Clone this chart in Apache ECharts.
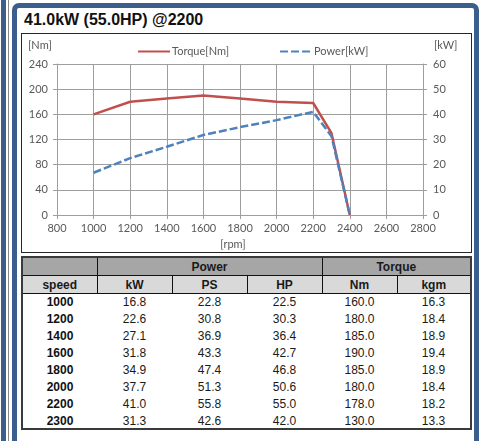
<!DOCTYPE html>
<html>
<head>
<meta charset="utf-8">
<script src="https://cdn.jsdelivr.net/npm/echarts@6/dist/echarts.min.js"></script>
<style>
  html, body { margin:0; padding:0; width:479px; height:441px; overflow:hidden; background:#fff; }
  .abs { position:absolute; box-sizing:border-box; }
  #strip { left:1px; top:0; width:5px; height:441px; background:#3b5e8c; }
  #stripLine { left:8px; top:0; width:1px; height:441px; background:#8a8a8a; }
  #panel { left:12px; top:3px; width:467px; height:470px; border:5px solid #3b5e8c; border-radius:7px; background:#fff; }
  #title { left:24px; top:10px; font:bold 16px "Liberation Sans", Arial, sans-serif; color:#111; white-space:nowrap; line-height:20px; }
  #chartBox { left:21px; top:33px; width:451px; height:220px; border:1px solid #262626; }
  #chart { left:0; top:0; width:479px; height:441px; z-index:2; }
  #tableBox { left:21px; top:256px; width:451px; height:174px; border:2px solid #3a3a3a; z-index:3; background:#fff; }
  table { border-collapse:collapse; table-layout:fixed; width:447px; font-family:"Liberation Sans", Arial, sans-serif; font-size:12px; color:#1a1a1a; }
  td { padding:0; text-align:center; vertical-align:middle; overflow:hidden; white-space:nowrap; }
  tr.h1 td { background:#a6a6a6; height:17px; font-weight:bold; border-bottom:1px solid #111; }
  tr.h2 td { background:#d9d9d9; height:17px; font-weight:bold; border-bottom:1px solid #111; }
  tr.h1 td.br, tr.h2 td.br { border-right:1px solid #111; }
  tr.d td { height:16.9px; }
  tr.d td.sp { font-weight:bold; color:#111; }
</style>
</head>
<body>
<div id="strip" class="abs"></div>
<div id="stripLine" class="abs"></div>
<div id="panel" class="abs"></div>
<div id="title" class="abs">41.0kW (55.0HP) @2200</div>
<div id="chartBox" class="abs"></div>
<div id="chart" class="abs"></div>
<div id="tableBox" class="abs"><table id="tbl"></table></div>
<script>
// ---- chart data ----
const rpm       = [1000, 1200, 1400, 1600, 1800, 2000, 2200, 2300, 2400];
const torqueNm  = [160, 180, 185, 190, 185, 180, 178, 130, 0];
const powerKW   = [16.8, 22.6, 27.1, 31.8, 34.9, 37.7, 41.0, 31.3, 0];
const seriesNames = ['Torque[Nm]', 'Power[kW]'];

// ---- table data ----
const tableSpeed = ['1000','1200','1400','1600','1800','2000','2200','2300'];
const tableKW    = ['16.8','22.6','27.1','31.8','34.9','37.7','41.0','31.3'];
const tablePS    = ['22.8','30.8','36.9','43.3','47.4','51.3','55.8','42.6'];
const tableHP    = ['22.5','30.3','36.4','42.7','46.8','50.6','55.0','42.0'];
const tableNm    = ['160.0','180.0','185.0','190.0','185.0','180.0','178.0','130.0'];
const tableKgm   = ['16.3','18.4','18.9','19.4','18.9','18.4','18.2','13.3'];
const groupHeaders = ['', 'Power', 'Torque'];
const colHeaders = ['speed', 'kW', 'PS', 'HP', 'Nm', 'kgm'];

// build table
(function(){
  const widths = [74, 75, 75, 75, 75, 73];
  let html = '<colgroup>' + widths.map(w => '<col style="width:' + w + 'px">').join('') + '</colgroup>';
  html += '<tr class="h1"><td class="br">' + groupHeaders[0] + '</td><td class="br" colspan="3">' + groupHeaders[1] + '</td><td colspan="2">' + groupHeaders[2] + '</td></tr>';
  html += '<tr class="h2">' + colHeaders.map((h, i) => '<td' + (i < colHeaders.length - 1 ? ' class="br"' : '') + '>' + h + '</td>').join('') + '</tr>';
  for (let i = 0; i < tableSpeed.length; i++) {
    html += '<tr class="d"><td class="sp">' + tableSpeed[i] + '</td><td>' + tableKW[i] + '</td><td>' + tablePS[i] + '</td><td>' + tableHP[i] + '</td><td>' + tableNm[i] + '</td><td>' + tableKgm[i] + '</td></tr>';
  }
  document.getElementById('tbl').innerHTML = html;
})();

const axisFont = { fontFamily: 'Lato', fontSize: 11, color: '#595959' };
const gridGrey = '#9e9e9e';

const chart = echarts.init(document.getElementById('chart'), null, { renderer: 'canvas' });
chart.setOption({
  backgroundColor: 'transparent',
  animation: false,
  grid: { left: 57, right: 56, top: 64, bottom: 226, containLabel: false, outerBoundsMode: 'none' },
  legend: {
    left: 132, top: 41,
    itemWidth: 32, itemHeight: 10, itemGap: 50,
    itemStyle: { opacity: 0 },
    textStyle: { fontFamily: 'Lato', fontSize: 11, color: '#595959', padding: [0, 0, 0, -3] },
    data: seriesNames
  },
  graphic: [
    { type: 'text', left: 28, top: 40, style: { text: '[Nm]', fill: '#595959', font: '11px Lato' } },
    { type: 'text', left: 434, top: 40, style: { text: '[kW]', fill: '#595959', font: '11px Lato' } }
  ],
  xAxis: {
    type: 'value', min: 800, max: 2800, interval: 200,
    name: '[rpm]', nameLocation: 'middle', nameGap: 24,
    nameTextStyle: { fontFamily: 'Lato', fontSize: 11, color: '#595959', padding: [0, 14, 0, 0] },
    axisLine: { show: true, lineStyle: { color: gridGrey, width: 1 } },
    axisTick: { show: true, length: 4, lineStyle: { color: gridGrey } },
    axisLabel: Object.assign({ margin: 8, formatter: v => String(v) }, axisFont),
    splitLine: { show: true, lineStyle: { color: gridGrey, width: 1 } }
  },
  yAxis: [
    {
      type: 'value', min: 0, max: 240, interval: 40, position: 'left',
      axisLine: { show: true, lineStyle: { color: gridGrey, width: 1 } },
      axisTick: { show: true, length: 4, lineStyle: { color: gridGrey } },
      axisLabel: Object.assign({ margin: 9 }, axisFont),
      splitLine: { show: true, lineStyle: { color: gridGrey, width: 1 } }
    },
    {
      type: 'value', min: 0, max: 60, interval: 10, position: 'right',
      axisLine: { show: true, lineStyle: { color: gridGrey, width: 1 } },
      axisTick: { show: true, length: 4, lineStyle: { color: gridGrey } },
      axisLabel: Object.assign({ margin: 10 }, axisFont),
      splitLine: { show: false }
    }
  ],
  series: [
    {
      name: seriesNames[0], type: 'line', yAxisIndex: 0,
      data: rpm.map((r, i) => [r, torqueNm[i]]),
      symbol: 'none', smooth: false,
      lineStyle: { color: '#c0504d', width: 2.5 },
      itemStyle: { color: '#c0504d' }
    },
    {
      name: seriesNames[1], type: 'line', yAxisIndex: 1,
      data: rpm.map((r, i) => [r, powerKW[i]]),
      symbol: 'none', smooth: false,
      lineStyle: { color: '#4f81bd', width: 2.5, type: [8, 3] },
      itemStyle: { color: '#4f81bd' }
    }
  ]
});
</script>
</body>
</html>
